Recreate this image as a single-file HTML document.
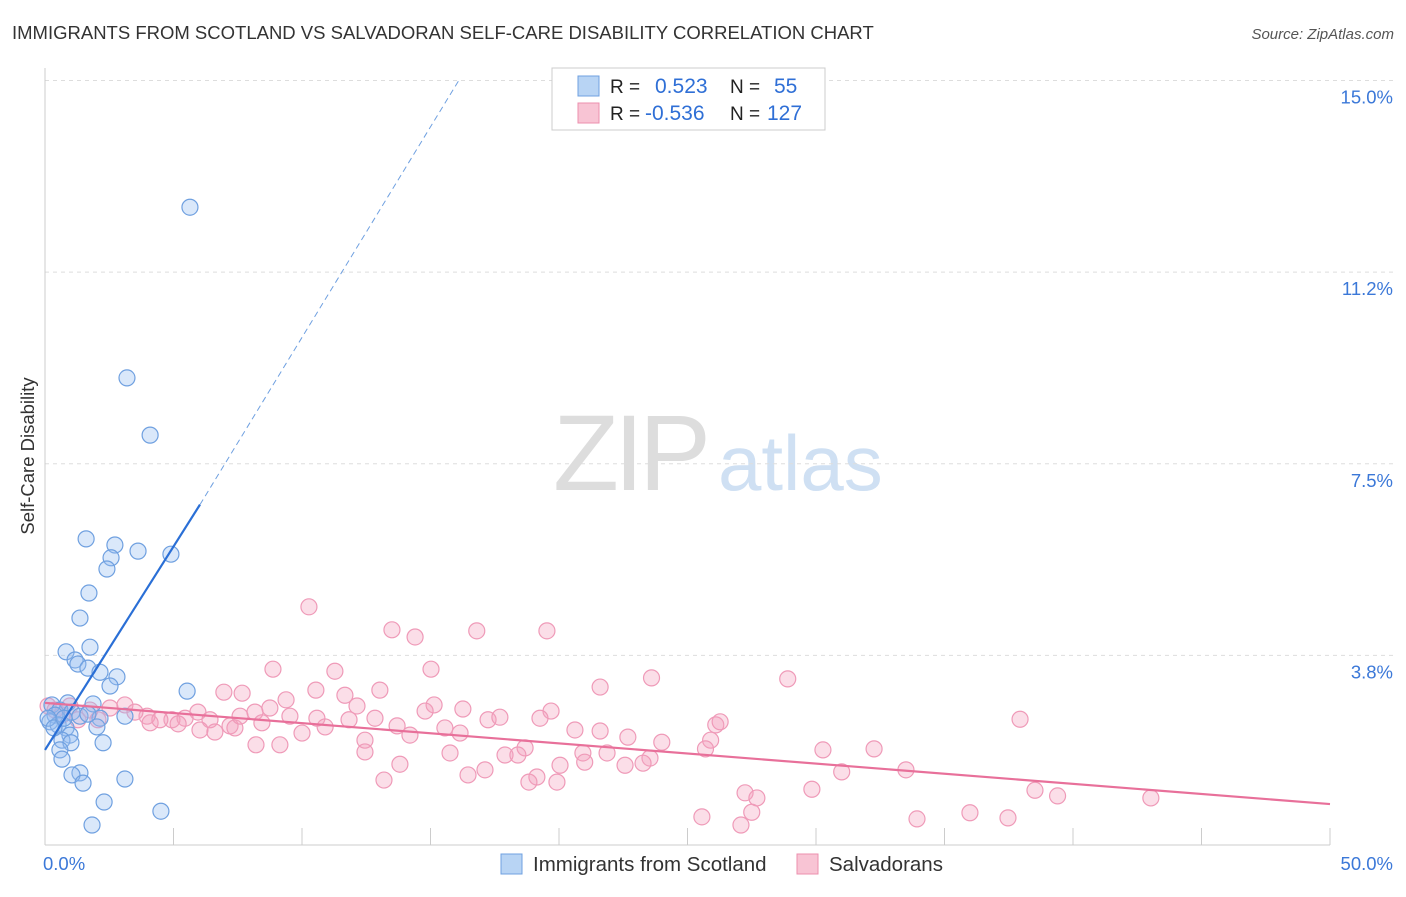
<!DOCTYPE html>
<html><head><meta charset="utf-8"><style>
body{margin:0;background:#fff;font-family:"Liberation Sans",sans-serif;}
svg text{font-family:"Liberation Sans",sans-serif;}
</style></head><body>
<svg id="chart" width="1406" height="892" viewBox="0 0 1406 892">
<text x="12" y="39" font-size="18.5" fill="#333">IMMIGRANTS FROM SCOTLAND VS SALVADORAN SELF-CARE DISABILITY CORRELATION CHART</text>
<text x="1394" y="39" font-size="15" fill="#555" font-style="italic" text-anchor="end">Source: ZipAtlas.com</text>
<text transform="translate(34,456) rotate(-90)" font-size="18.5" fill="#333" text-anchor="middle">Self-Care Disability</text>
<g>
<text x="553" y="490" font-size="108" fill="#ddd" font-family="Liberation Serif" letter-spacing="-5">ZIP</text>
<text x="718" y="490" font-size="78" fill="#cfe0f3">atlas</text>
</g>
<g id="grid"></g><g id="axes"></g><g id="marks"></g>
<g>
<rect x="552" y="68" width="273" height="62" fill="#fff" stroke="#ccc"/>
<rect x="578" y="76" width="21" height="20" fill="#b8d4f4" stroke="#6fa0e0"/>
<rect x="578" y="103" width="21" height="20" fill="#f8c4d4" stroke="#ec8fae"/>
<text x="610" y="93" font-size="19" fill="#222">R =</text>
<text x="655" y="93" font-size="21" fill="#2f6fd6">0.523</text>
<text x="730" y="93" font-size="19" fill="#222">N =</text>
<text x="774" y="93" font-size="21" fill="#2f6fd6">55</text>
<text x="610" y="120" font-size="19" fill="#222">R =</text>
<text x="645" y="120" font-size="21" fill="#2f6fd6">-0.536</text>
<text x="730" y="120" font-size="19" fill="#222">N =</text>
<text x="767" y="120" font-size="21" fill="#2f6fd6">127</text>
</g>
<g>
<rect x="501" y="854" width="21" height="20" fill="#b8d4f4" stroke="#6fa0e0"/>
<text x="533" y="871" font-size="20.5" fill="#333">Immigrants from Scotland</text>
<rect x="797" y="854" width="21" height="20" fill="#f8c4d4" stroke="#ec8fae"/>
<text x="829" y="871" font-size="20.5" fill="#333">Salvadorans</text>
</g>
</svg>
<script>
const blueX=[5.64,3.19,4.09,1.6,2.72,3.62,4.9,2.57,2.41,1.71,1.36,1.75,0.82,1.17,1.28,1.67,2.14,2.8,2.53,5.53,0.89,1.87,0.27,0.58,1.05,0.39,1.36,2.14,3.11,0.19,0.51,0.82,2.02,0.97,0.66,1.01,2.26,0.58,0.66,1.36,1.05,3.11,1.48,2.3,4.51,1.83,0.12,0.35,0.74,1.67];
const blueY=[12.52,9.18,8.06,6.03,5.91,5.79,5.73,5.66,5.44,4.97,4.48,3.91,3.82,3.66,3.58,3.5,3.42,3.33,3.15,3.05,2.82,2.8,2.78,2.68,2.64,2.58,2.56,2.52,2.56,2.45,2.39,2.33,2.35,2.19,2.09,2.04,2.04,1.9,1.72,1.45,1.41,1.33,1.25,0.88,0.7,0.43,2.52,2.33,2.52,2.6];
const pinkX=[10.27,13.5,14.4,16.8,19.53,8.87,11.28,15.02,21.6,23.6,28.9,6.96,7.67,10.54,11.67,13.03,9.38,12.14,8.75,15.14,16.26,19.69,14.79,8.17,5.95,3.11,2.53,3.97,4.94,5.45,6.42,7.2,8.44,9.53,10.58,11.83,12.84,13.7,15.56,17.24,17.7,19.26,20.62,21.6,22.68,24.0,26.1,26.27,25.9,25.7,37.94,4.09,4.47,5.18,6.61,7.39,8.21,9.14,10.0,10.9,12.45,14.2,16.15,12.45,15.76,17.9,18.68,18.4,20.93,21.87,13.81,20.04,21.0,22.57,23.54,23.27,30.27,32.26,31.0,33.5,17.12,16.46,13.19,19.14,18.83,19.92,27.24,27.7,27.5,29.84,38.52,39.4,43.03,25.56,27.08,33.93,35.99,37.47,0.12,0.39,0.66,0.97,1.28,1.75,2.06,3.5,6.03,7.59];
const pinkY=[4.7,4.25,4.11,4.23,4.23,3.48,3.44,3.48,3.13,3.31,3.29,3.03,3.01,3.07,2.97,3.07,2.88,2.76,2.72,2.78,2.7,2.66,2.66,2.64,2.64,2.78,2.72,2.56,2.49,2.52,2.49,2.37,2.43,2.56,2.52,2.49,2.52,2.37,2.33,2.49,2.54,2.52,2.29,2.27,2.15,2.05,2.39,2.45,2.09,1.92,2.5,2.43,2.49,2.41,2.25,2.33,2.0,2.0,2.23,2.35,2.09,2.19,2.23,1.86,1.84,1.8,1.94,1.8,1.84,1.84,1.62,1.6,1.66,1.6,1.74,1.64,1.9,1.92,1.47,1.51,1.51,1.41,1.31,1.37,1.27,1.27,1.06,0.96,0.68,1.13,1.11,1.0,0.96,0.59,0.43,0.55,0.67,0.57,2.76,2.68,2.58,2.76,2.49,2.68,2.49,2.64,2.29,2.56];
const yTicks=[3.75,7.5,11.25,15];
const yTickLabels=["3.8%","7.5%","11.2%","15.0%"];
const xTicks=[0,5,10,15,20,25,30,35,40,45,50];
const blueTrend=[[0,1.9],[6.03,6.7],[16.1,15.0]];
const pinkTrend=[[0,2.82],[50,0.84]];
const X=v=>45+v*25.7, Y=v=>847-v*51.1;
const NS="http://www.w3.org/2000/svg";
function mk(t,a,p){const e=document.createElementNS(NS,t);for(const k in a)e.setAttribute(k,a[k]);p.appendChild(e);return e;}
const grid=document.getElementById('grid'),axes=document.getElementById('axes'),marks=document.getElementById('marks');
yTicks.forEach((v,i)=>{
 const l=mk('line',{x1:45,x2:1395,y1:Y(v),y2:Y(v),stroke:'#ddd','stroke-dasharray':'4,4'},grid);
 
 
 const t=mk('text',{x:1393,y:Y(v)+23,'font-size':18.5,fill:'#3b78d8','text-anchor':'end'},axes);t.textContent=yTickLabels[i];
 
 
});
const ax=mk('line',{x1:45,x2:1330,y1:845,y2:845,stroke:'#ccc'},axes);


const ay=mk('line',{x1:45,x2:45,y1:68,y2:845,stroke:'#ccc'},axes);


xTicks.forEach(v=>{
 const t=mk('line',{x1:X(v),x2:X(v),y1:828,y2:845,stroke:'#ccc'},axes);
 
 
});
[[0,"0.0%","start"],[50,"50.0%","end"]].forEach(d=>{
 const t=mk('text',{x:X(d[0])+(d[0]?63:0)-(d[0]?0:2),y:870,'font-size':18.5,fill:'#3b78d8','text-anchor':d[2]},axes);t.textContent=d[1];
 
 
});
pinkX.forEach((x,i)=>{
 const c=mk('circle',{cx:X(x),cy:Y(pinkY[i]),r:8,fill:'rgba(244,160,190,0.35)',stroke:'#ef9ab8','stroke-width':1.2},marks);
 
 
});
blueX.forEach((x,i)=>{
 const c=mk('circle',{cx:X(x),cy:Y(blueY[i]),r:8,fill:'rgba(150,190,240,0.35)',stroke:'#6fa0e0','stroke-width':1.2},marks);
 
 
});
const b1=mk('line',{x1:X(blueTrend[0][0]),y1:Y(blueTrend[0][1]),x2:X(blueTrend[1][0]),y2:Y(blueTrend[1][1]),stroke:'#2a6fd6','stroke-width':2.2},marks);


const b2=mk('line',{x1:X(blueTrend[1][0]),y1:Y(blueTrend[1][1]),x2:X(blueTrend[2][0]),y2:Y(blueTrend[2][1]),stroke:'#6fa0e0','stroke-width':1,'stroke-dasharray':'6,4'},marks);


const p1=mk('line',{x1:X(pinkTrend[0][0]),y1:Y(pinkTrend[0][1]),x2:X(pinkTrend[1][0]),y2:Y(pinkTrend[1][1]),stroke:'#e8709a','stroke-width':2.2},marks);


</script>
</body></html>
